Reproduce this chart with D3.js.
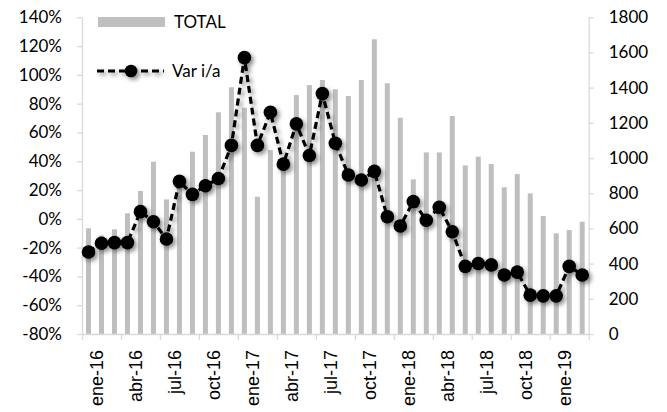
<!DOCTYPE html>
<html lang="es">
<head>
<meta charset="utf-8">
<script src="https://d3js.org/d3.v7.min.js"></script>
<style>
  body { margin: 0; background: #fff; }
  svg text { fill: #000; }
  .axis .domain, .axis line { stroke: #d9d9d9; stroke-width: 1.3; }
  .yaxis text { font-family: Lato, sans-serif; font-size: 17px; }
  .xaxis text { font-family: "Liberation Sans", Arial, sans-serif; font-size: 18px; }
  .legend text { font-family: Lato, sans-serif; font-size: 17px; }
</style>
</head>
<body>
<script>
// months ene-16 .. mar-19
var months = ["ene-16","feb-16","mar-16","abr-16","may-16","jun-16","jul-16","ago-16","sep-16","oct-16","nov-16","dic-16",
              "ene-17","feb-17","mar-17","abr-17","may-17","jun-17","jul-17","ago-17","sep-17","oct-17","nov-17","dic-17",
              "ene-18","feb-18","mar-18","abr-18","may-18","jun-18","jul-18","ago-18","sep-18","oct-18","nov-18","dic-18",
              "ene-19","feb-19","mar-19"];

var total = [601, 560, 595, 686, 813, 979, 765, 900, 1036, 1131, 1260, 1402,
             1286, 780, 1046, 960, 1358, 1415, 1444, 1391, 1353, 1444, 1675, 1425,
             1229, 879, 1032, 1032, 1239, 958, 1008, 966, 834, 909, 799, 671,
             572, 591, 638];

var varIA = [-23, -17, -16.5, -16.5, 5, -2, -14, 26, 17, 23, 28, 51,
             112, 51, 74, 38, 66, 44, 87, 52.5, 30.5, 27, 33, 1.5,
             -5, 12, -1, 8, -9, -33, -31, -32, -39, -37, -53, -53.5,
             -53.5, -33, -39];

var xTickLabels = ["ene-16","abr-16","jul-16","oct-16","ene-17","abr-17","jul-17","oct-17","ene-18","abr-18","jul-18","oct-18","ene-19"];
var leftTicks = [-80, -60, -40, -20, 0, 20, 40, 60, 80, 100, 120, 140];
var rightTicks = [0, 200, 400, 600, 800, 1000, 1200, 1400, 1600, 1800];

var W = 667, H = 412;
var plot = {left: 82, right: 588.7, top: 17.3, bottom: 334};

var svg = d3.select("body").append("svg")
    .attr("width", W)
    .attr("height", H);

var defs = svg.append("defs");
defs.append("filter")
    .attr("id", "shadow")
    .attr("x", "-50%").attr("y", "-50%")
    .attr("width", "200%").attr("height", "200%")
  .append("feDropShadow")
    .attr("dx", 2.5).attr("dy", 2.5)
    .attr("stdDeviation", 2.2)
    .attr("flood-color", "#000")
    .attr("flood-opacity", 0.45);

var x = d3.scaleBand()
    .domain(months)
    .range([plot.left, plot.right])
    .paddingInner(0.615)
    .paddingOuter(0.3075);

var xl = d3.scaleLinear()
    .domain([0, months.length])
    .range([plot.left, plot.right]);

var yL = d3.scaleLinear().domain([-80, 140]).range([plot.bottom, plot.top]);
var yR = d3.scaleLinear().domain([0, 1800]).range([plot.bottom, plot.top]);

// bars
svg.append("g")
  .selectAll("rect")
  .data(total)
  .enter().append("rect")
    .attr("x", (d, i) => x(months[i]))
    .attr("y", d => yR(d))
    .attr("width", x.bandwidth())
    .attr("height", d => yR(0) - yR(d))
    .attr("fill", "#bfbfbf");

// axes
svg.append("g")
    .attr("class", "axis yaxis")
    .attr("transform", "translate(" + plot.left + ",0)")
    .call(d3.axisLeft(yL)
      .tickValues(leftTicks)
      .tickSize(5)
      .tickSizeOuter(0)
      .tickPadding(15)
      .tickFormat(d => d + "%"));

svg.append("g")
    .attr("class", "axis yaxis")
    .attr("transform", "translate(" + plot.right + ",0)")
    .call(d3.axisRight(yR)
      .tickValues(rightTicks)
      .tickSize(5)
      .tickSizeOuter(0)
      .tickPadding(15)
      .tickFormat(d => String(d)));

var bottomAxis = svg.append("g")
    .attr("class", "axis xaxis")
    .attr("transform", "translate(0," + plot.bottom + ")")
    .call(d3.axisBottom(xl)
      .tickValues(d3.range(0, months.length + 1, 3))
      .tickSize(6)
      .tickSizeOuter(0)
      .tickFormat(d => xTickLabels[d / 3] || ""));

bottomAxis.selectAll("text")
    .attr("text-anchor", "end")
    .attr("transform", "rotate(-90)")
    .attr("x", -16)
    .attr("y", 0)
    .attr("dy", "1.15em");

// line + markers
var line = d3.line()
    .x((d, i) => x(months[i]) + x.bandwidth() / 2)
    .y(d => yL(d));

var series = svg.append("g").attr("filter", "url(#shadow)");

series.append("path")
    .datum(varIA)
    .attr("d", line)
    .attr("fill", "none")
    .attr("stroke", "#000")
    .attr("stroke-width", 3.2)
    .attr("stroke-dasharray", "7,4");

series.selectAll("circle")
  .data(varIA)
  .enter().append("circle")
    .attr("cx", (d, i) => x(months[i]) + x.bandwidth() / 2)
    .attr("cy", d => yL(d))
    .attr("r", 6.8)
    .attr("fill", "#000");

// legend
var legend = svg.append("g").attr("class", "legend");

legend.append("rect")
    .attr("x", 98).attr("y", 17)
    .attr("width", 67).attr("height", 10)
    .attr("fill", "#bfbfbf");

legend.append("text")
    .attr("x", 174).attr("y", 27.5)
    .text("TOTAL");

var legLine = legend.append("g").attr("filter", "url(#shadow)");

legLine.append("line")
    .attr("x1", 97).attr("x2", 164)
    .attr("y1", 71).attr("y2", 71)
    .attr("stroke", "#000")
    .attr("stroke-width", 3.2)
    .attr("stroke-dasharray", "7,4");

legLine.append("circle")
    .attr("cx", 131).attr("cy", 71)
    .attr("r", 6.3)
    .attr("fill", "#000");

legend.append("text")
    .attr("x", 172).attr("y", 76.5)
    .text("Var i/a");
</script>
</body>
</html>
